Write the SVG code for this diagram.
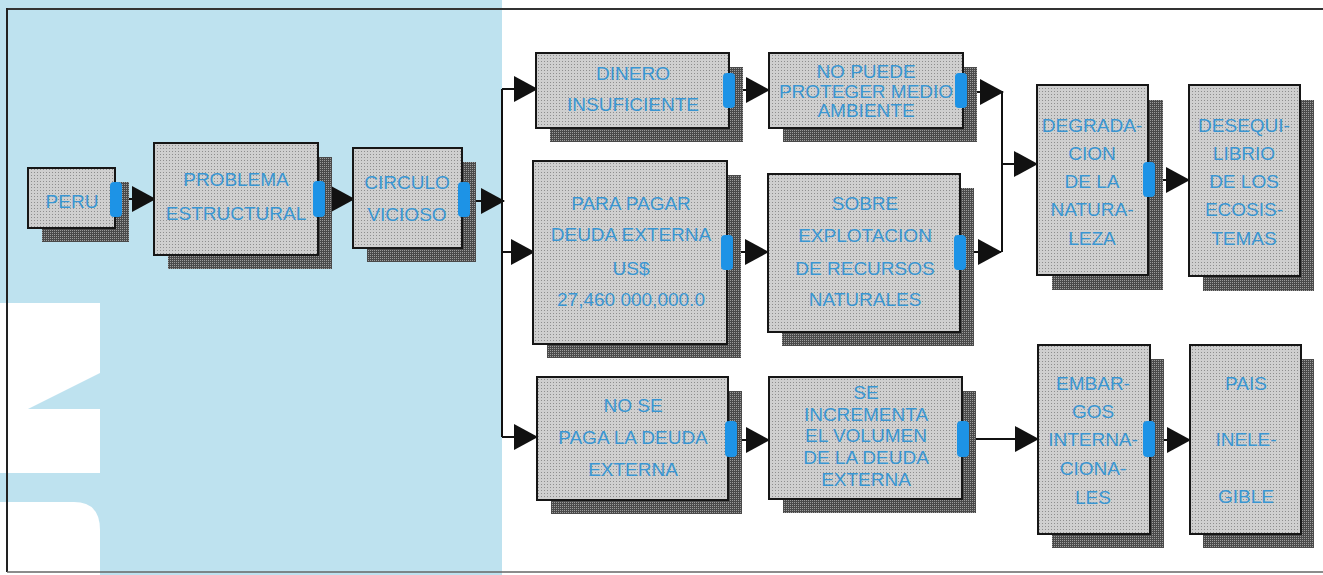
<svg xmlns="http://www.w3.org/2000/svg" width="1323" height="575" viewBox="0 0 1323 575">
<defs>
  <pattern id="boxDots" width="3" height="3" patternUnits="userSpaceOnUse">
    <rect width="3" height="3" fill="#cfcfcf"/>
    <rect x="1" y="1" width="1" height="1" fill="#8e8e8e"/>
  </pattern>
  <pattern id="shDots" width="2" height="2" patternUnits="userSpaceOnUse">
    <rect width="2" height="2" fill="#4a4a4a"/>
    <rect width="1" height="1" fill="#9c9c9c"/>
  </pattern>
  <marker id="arr" markerUnits="userSpaceOnUse" markerWidth="24" markerHeight="26" refX="23" refY="13" orient="auto">
    <path d="M0,0 L24,13 L0,26 Z" fill="#111"/>
  </marker>
  <style>
    .sh { fill: url(#shDots); }
    .bx { fill: url(#boxDots); stroke: #161616; stroke-width: 2; }
    .tab { fill: #1d93e6; }
    .t { font-family: "Liberation Sans", Arial, sans-serif; font-size: 19px; fill: #3a96d2; text-anchor: middle; }
    .ln { fill: none; stroke: #111; stroke-width: 2; }
    .ar { fill: none; stroke: #111; stroke-width: 2; marker-end: url(#arr); }
  </style>
</defs>

<!-- background -->
<rect x="0" y="0" width="1323" height="575" fill="#ffffff"/>
<rect x="0" y="0" width="502" height="575" fill="#bee2ef"/>
<path d="M0,303 H100 V373 L28,409 H100 V473 H0 Z" fill="#ffffff"/>
<path d="M0,502 H74 Q100,502 100,530 V575 H0 Z" fill="#ffffff"/>
<!-- frame -->
<path d="M7,9 H1323" stroke="#333" stroke-width="2" fill="none"/>
<path d="M7,8 V572" stroke="#222" stroke-width="2" fill="none"/>
<path d="M7,572 H1323" stroke="#666" stroke-width="1.5" fill="none"/>

<!-- connectors -->
<g id="connectors">
  <path class="ar" d="M122,199 H155"/>
  <path class="ar" d="M328,199 H354"/>
  <path class="ar" d="M470,201 H504"/>
  <path class="ln" d="M502,89 V437"/>
  <path class="ar" d="M502,89 H537"/>
  <path class="ar" d="M502,252 H534"/>
  <path class="ar" d="M502,437 H537"/>
  <path class="ar" d="M735,90 H769"/>
  <path class="ar" d="M967,92 H1003"/>
  <path class="ar" d="M733,252 H768"/>
  <path class="ar" d="M966,252 H1001"/>
  <path class="ln" d="M1002,92 V252"/>
  <path class="ar" d="M1002,164 H1037"/>
  <path class="ar" d="M1155,180 H1189"/>
  <path class="ar" d="M737,440 H769"/>
  <path class="ar" d="M968,439 H1038"/>
  <path class="ar" d="M1155,440 H1190"/>
</g>

<g id="peru">
  <rect class="sh" x="42" y="182" width="87" height="60"/>
  <rect class="bx" x="28" y="168" width="87" height="60"/>
  <text class="t" x="72" y="208">PERU</text>
  <rect class="tab" x="110" y="182" width="12" height="35" rx="4"/>
</g>

<g id="problema">
  <rect class="sh" x="168" y="157" width="164" height="112"/>
  <rect class="bx" x="154" y="143" width="164" height="112"/>
  <text class="t" x="236" y="186">PROBLEMA</text>
  <text class="t" x="236" y="220">ESTRUCTURAL</text>
  <rect class="tab" x="313" y="181" width="12" height="36" rx="4"/>
</g>

<g id="circulo">
  <rect class="sh" x="367" y="162" width="109" height="100"/>
  <rect class="bx" x="353" y="148" width="109" height="100"/>
  <text class="t" x="407" y="189">CIRCULO</text>
  <text class="t" x="407" y="221">VICIOSO</text>
  <rect class="tab" x="458" y="182" width="12" height="35" rx="4"/>
</g>

<g id="dinero">
  <rect class="sh" x="550" y="67" width="193" height="75"/>
  <rect class="bx" x="536" y="53" width="193" height="75"/>
  <text class="t" x="633" y="80">DINERO</text>
  <text class="t" x="633" y="111">INSUFICIENTE</text>
  <rect class="tab" x="723" y="73" width="12" height="35" rx="4"/>
</g>

<g id="nopuede">
  <rect class="sh" x="783" y="67" width="194" height="75"/>
  <rect class="bx" x="769" y="53" width="194" height="75"/>
  <text class="t" x="866" y="78">NO PUEDE</text>
  <text class="t" x="866" y="98">PROTEGER MEDIO</text>
  <text class="t" x="866" y="117">AMBIENTE</text>
  <rect class="tab" x="955" y="73" width="12" height="35" rx="4"/>
</g>

<g id="parapagar">
  <rect class="sh" x="547" y="175" width="194" height="183"/>
  <rect class="bx" x="533" y="161" width="194" height="183"/>
  <text class="t" x="631" y="210">PARA PAGAR</text>
  <text class="t" x="631" y="241">DEUDA EXTERNA</text>
  <text class="t" x="631" y="275">US$</text>
  <text class="t" x="631" y="306">27,460 000,000.0</text>
  <rect class="tab" x="721" y="235" width="12" height="35" rx="4"/>
</g>

<g id="sobre">
  <rect class="sh" x="782" y="188" width="192" height="158"/>
  <rect class="bx" x="768" y="174" width="192" height="158"/>
  <text class="t" x="865" y="210">SOBRE</text>
  <text class="t" x="865" y="242">EXPLOTACION</text>
  <text class="t" x="865" y="275">DE RECURSOS</text>
  <text class="t" x="865" y="306">NATURALES</text>
  <rect class="tab" x="954" y="235" width="12" height="35" rx="4"/>
</g>

<g id="degradacion">
  <rect class="sh" x="1052" y="100" width="111" height="190"/>
  <rect class="bx" x="1037" y="85" width="111" height="190"/>
  <text class="t" x="1092" y="132">DEGRADA-</text>
  <text class="t" x="1092" y="160">CION</text>
  <text class="t" x="1092" y="188">DE LA</text>
  <text class="t" x="1092" y="216">NATURA-</text>
  <text class="t" x="1092" y="245">LEZA</text>
  <rect class="tab" x="1143" y="162" width="12" height="35" rx="4"/>
</g>

<g id="desequilibrio">
  <rect class="sh" x="1203" y="100" width="111" height="191"/>
  <rect class="bx" x="1189" y="85" width="111" height="191"/>
  <text class="t" x="1244" y="132">DESEQUI-</text>
  <text class="t" x="1244" y="160">LIBRIO</text>
  <text class="t" x="1244" y="188">DE LOS</text>
  <text class="t" x="1244" y="216">ECOSIS-</text>
  <text class="t" x="1244" y="245">TEMAS</text>
</g>

<g id="nose">
  <rect class="sh" x="551" y="391" width="191" height="123"/>
  <rect class="bx" x="537" y="377" width="191" height="123"/>
  <text class="t" x="633" y="412">NO SE</text>
  <text class="t" x="633" y="444">PAGA LA DEUDA</text>
  <text class="t" x="633" y="476">EXTERNA</text>
  <rect class="tab" x="725" y="421" width="12" height="36" rx="4"/>
</g>

<g id="seincrementa">
  <rect class="sh" x="783" y="391" width="193" height="122"/>
  <rect class="bx" x="769" y="377" width="193" height="122"/>
  <text class="t" x="866" y="399">SE</text>
  <text class="t" x="866" y="421">INCREMENTA</text>
  <text class="t" x="866" y="442">EL VOLUMEN</text>
  <text class="t" x="866" y="464">DE LA DEUDA</text>
  <text class="t" x="866" y="486">EXTERNA</text>
  <rect class="tab" x="957" y="421" width="12" height="36" rx="4"/>
</g>

<g id="embargos">
  <rect class="sh" x="1052" y="359" width="112" height="189"/>
  <rect class="bx" x="1038" y="345" width="112" height="189"/>
  <text class="t" x="1093" y="390">EMBAR-</text>
  <text class="t" x="1093" y="418">GOS</text>
  <text class="t" x="1093" y="446">INTERNA-</text>
  <text class="t" x="1093" y="475">CIONA-</text>
  <text class="t" x="1093" y="504">LES</text>
  <rect class="tab" x="1143" y="421" width="12" height="36" rx="4"/>
</g>

<g id="pais">
  <rect class="sh" x="1203" y="359" width="111" height="189"/>
  <rect class="bx" x="1190" y="345" width="111" height="189"/>
  <text class="t" x="1246" y="390">PAIS</text>
  <text class="t" x="1246" y="446">INELE-</text>
  <text class="t" x="1246" y="503">GIBLE</text>
</g>
</svg>
